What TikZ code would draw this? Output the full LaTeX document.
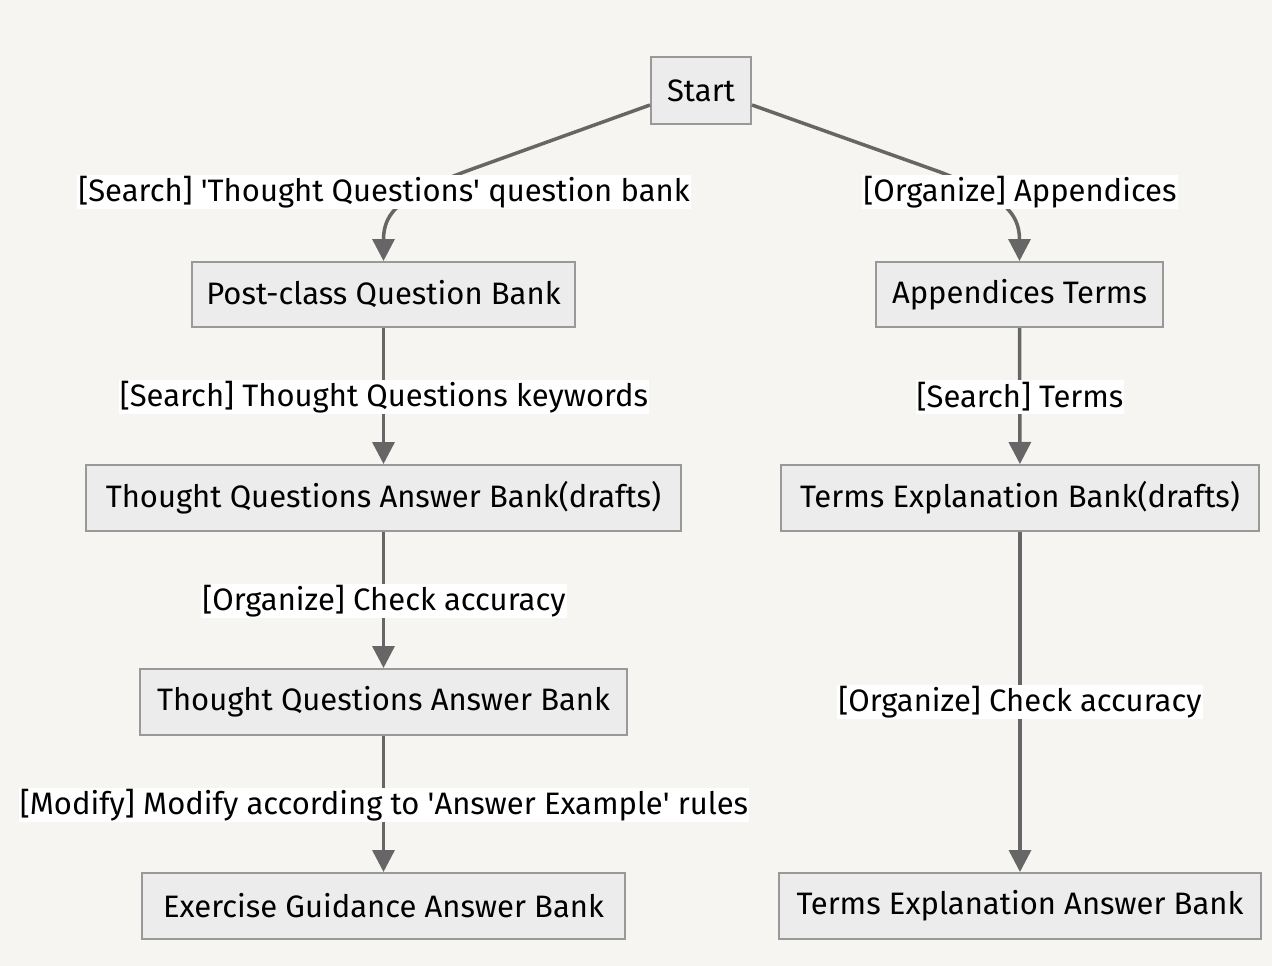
\documentclass[tikz,border=0pt]{standalone}
\usepackage{fontspec}
\setmainfont{Fira Sans}
\usetikzlibrary{arrows.meta}
\definecolor{bgc}{HTML}{F6F5F1}
\definecolor{boxfill}{HTML}{ECECEC}
\definecolor{boxline}{HTML}{999999}
\definecolor{edgec}{HTML}{666666}
\tikzset{
  box/.style={draw=boxline, line width=2pt, fill=boxfill, inner sep=0pt, font=\fontsize{31}{36}\selectfont, text=black},
  elabel/.style={fill=white, inner sep=1pt, minimum height=34pt, font=\fontsize{31}{36}\selectfont, text=black},
  edge/.style={draw=edgec, line width=3.5pt, -{Triangle[length=22pt,width=22pt]}},
}
\begin{document}
\begin{tikzpicture}[x=1pt,y=-1pt]
\fill[bgc] (0,0) rectangle (1272,966);
\useasboundingbox (0,0) rectangle (1272,966);
\node[box, minimum width=100pt, minimum height=67pt] (start) at (701,90.5) {Start};
\node[box, minimum width=383pt, minimum height=65pt] (pcqb) at (383.5,294.5) {Post-class Question Bank};
\node[box, minimum width=287pt, minimum height=65pt] (apt) at (1019.5,294.5) {Appendices Terms};
\node[box, minimum width=595pt, minimum height=66pt] (tqd) at (383.5,498) {Thought Questions Answer Bank(drafts)};
\node[box, minimum width=478pt, minimum height=66pt] (ted) at (1020,498) {Terms Explanation Bank(drafts)};
\node[box, minimum width=487pt, minimum height=66pt] (tqa) at (383.5,702) {Thought Questions Answer Bank};
\node[box, minimum width=483pt, minimum height=66pt] (ega) at (383.5,906) {Exercise Guidance Answer Bank};
\node[box, minimum width=482pt, minimum height=66pt] (tea) at (1020,906) {Terms Explanation Answer Bank};
\coordinate (l1) at (475,168);
\coordinate (r1) at (940,172);
\draw[edge] ([yshift=-14.5pt]start.west) -- (l1) .. controls (400,195) and (383.5,212) .. (pcqb.north);
\draw[edge] ([yshift=-14.5pt]start.east) -- (r1) .. controls (1002,196) and (1019.5,212) .. (apt.north);
\draw[edge] (pcqb) -- (tqd);
\draw[edge] (apt) -- (ted);
\draw[edge] (tqd) -- (tqa);
\draw[edge] (ted) -- (tea);
\draw[edge] (tqa) -- (ega);
\node[elabel] (lb1) at (384,192) {[Search] \textquotesingle Thought Questions\textquotesingle{} question bank};
\node[elabel] (lb2) at (1020,192) {[Organize] Appendices};
\node[elabel] (lb3) at (384,397) {[Search] Thought Questions keywords};
\node[elabel] (lb4) at (1020,397) {[Search] Terms};
\node[elabel] (lb5) at (384,601) {[Organize] Check accuracy};
\node[elabel] (lb6) at (1020,702) {[Organize] Check accuracy};
\node[elabel] (lb7) at (384,805) {[Modify] Modify according to \textquotesingle Answer Example\textquotesingle{} rules};
\end{tikzpicture}
\end{document}
